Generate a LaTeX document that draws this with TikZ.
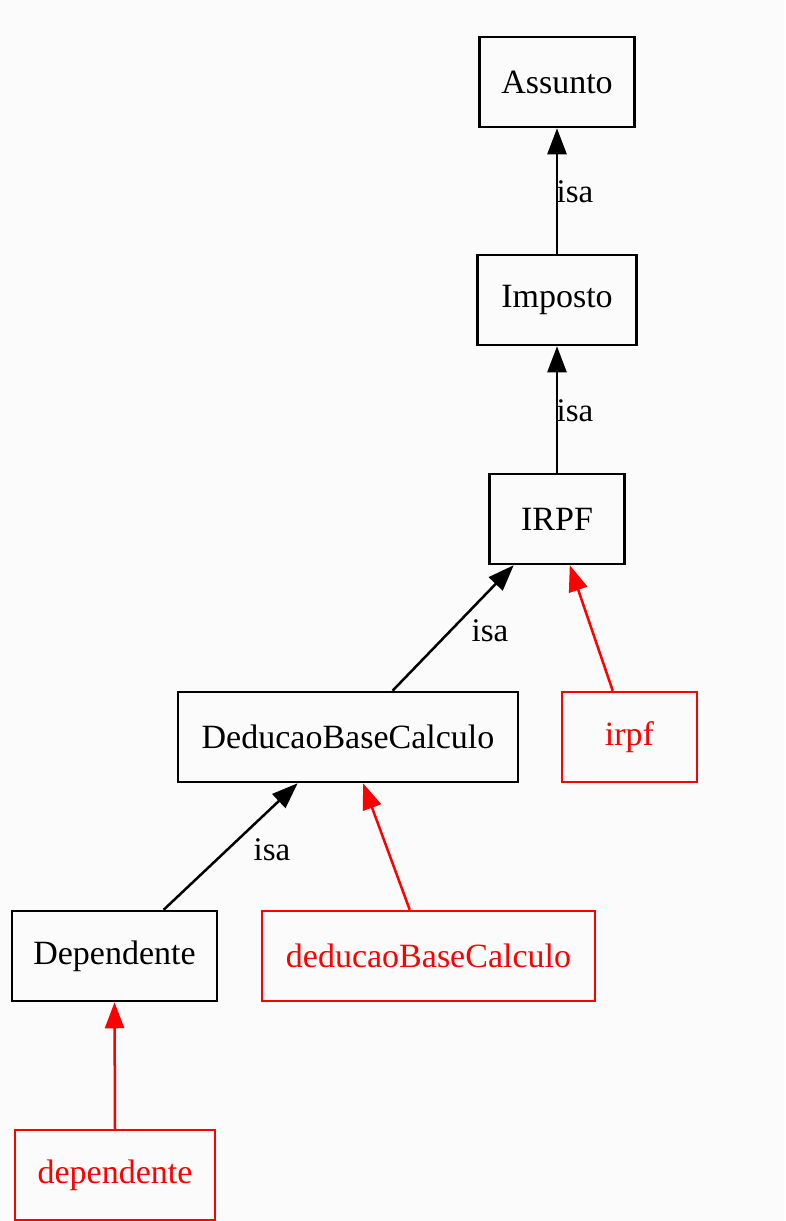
\documentclass[tikz,border=0pt]{standalone}
\usepackage{fontspec}
\setmainfont{Liberation Serif}
\usetikzlibrary{arrows.meta,calc}
\definecolor{paper}{RGB}{250,251,250}
\definecolor{hot}{RGB}{255,0,0}
\tikzset{
  box/.style={draw, line width=2.5pt, inner sep=0pt, minimum height=90pt, font=\fontsize{34}{40}\selectfont},
  inst/.style={box, draw=hot, text=hot},
  isa/.style={line width=2.5pt, -{Triangle[length=26pt,width=19pt]}},
  link/.style={isa, draw=hot, fill=hot},
  lbl/.style={font=\fontsize{33}{40}\selectfont, inner sep=0pt}
}
\begin{document}
\begin{tikzpicture}[x=1pt,y=-1pt]
  \fill[paper] (0,0) rectangle (785,1221);
  \useasboundingbox (0,0) rectangle (785,1221);

  % class hierarchy
  \node[box, minimum width=155pt] (assunto) at (557,82)  {Assunto};
  \node[box, minimum width=159pt] (imposto) at (557,300) {Imposto};
  \node[box, minimum width=135pt] (irpfC)   at (557,519) {IRPF};
  \node[box, minimum width=340pt] (dbcC)    at (348,737) {DeducaoBaseCalculo};
  \node[box, minimum width=205pt] (depC)    at (114.5,956) {Dependente};

  % instances
  \node[inst, minimum width=135pt] (irpfI) at (629.5,737) {irpf};
  \node[inst, minimum width=333pt] (dbcI)  at (428.5,956) {deducaoBaseCalculo};
  \node[inst, minimum width=200pt] (depI)  at (115,1175) {dependente};

  % isa edges
  \draw[isa] (imposto.north) -- (assunto.south);
  \node[lbl] (l1) at (575,192) {isa};
  \draw[isa] (irpfC.north) -- (imposto.south);
  \node[lbl] (l2) at (575,411) {isa};
  \draw[isa] ($(dbcC.north west)!0.63!(dbcC.north east)$) -- ($(irpfC.south west)!0.185!(irpfC.south east)$);
  \node[lbl] (l3) at (490,631) {isa};
  \draw[isa] ($(depC.north west)!0.737!(depC.north east)$) -- ($(dbcC.south west)!0.353!(dbcC.south east)$);
  \node[lbl] (l4) at (272,850) {isa};

  % instance-of edges
  \draw[link] ($(irpfI.north west)!0.378!(irpfI.north east)$) -- ($(irpfC.south west)!0.593!(irpfC.south east)$);
  \draw[link] ($(dbcI.north west)!0.444!(dbcI.north east)$) -- ($(dbcC.south west)!0.544!(dbcC.south east)$);
  \draw[link] (depI.north) -- (depC.south);
\end{tikzpicture}
\end{document}
